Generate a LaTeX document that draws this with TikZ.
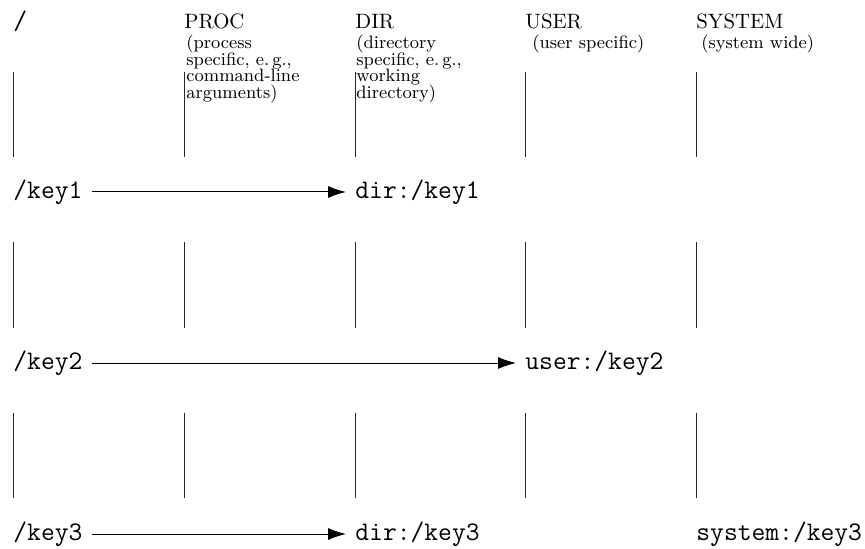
\documentclass[tikz,border=0pt]{standalone}
\usetikzlibrary{arrows.meta}
\newcommand\tightsubfont{\fontsize{9}{8.2}\selectfont\lineskiplimit -100pt\relax}
\begin{document}
\begin{tikzpicture}[x=0.5pt,y=-0.5pt,
  key/.style={font=\ttfamily\fontsize{13.4}{15}\selectfont, inner sep=0pt, anchor=west},
  head/.style={font=\fontsize{10.4}{12}\selectfont, inner sep=0pt, anchor=base west},
  sub/.style={font=\tightsubfont, inner sep=0pt, anchor=north west, align=left},
  lane/.style={line width=0.5pt, black!85},
  map/.style={line width=0.5pt, -{Latex[length=9pt,width=6pt]}, shorten <=4.5pt, shorten >=4.5pt}]
\useasboundingbox (0,0) rectangle (865,549);
% headers
\node[key, anchor=base west] (root) at (13,30) {/};
\node[head] (proc) at (184,29) {PROC};
\node[head] (dir) at (355,29) {DIR};
\node[head] (user) at (525,29) {USER};
\node[head] (system) at (696,29) {SYSTEM};
\node[sub] (procsub) at (186,35) {(process\\specific, e.\,g.,\\command-line\\arguments)};
\node[sub] (dirsub) at (356,35) {(directory\\specific, e.\,g.,\\working\\directory)};
\node[sub] (usersub) at (532,35) {(user specific)};
\node[sub] (syssub) at (701,35) {(system wide)};
% lanes
\foreach \x in {13,184,355,525,696}{
  \foreach \a/\b in {72/157,242/328,413/498}{
    \draw[lane] (\x,\a) -- (\x,\b);
  }
}
% keys
\node[key] (k1) at (13,192) {/key1};
\node[key] (d1) at (355,192) {dir:/key1};
\node[key] (k2) at (13,363) {/key2};
\node[key] (u2) at (525,363) {user:/key2};
\node[key] (k3) at (13,534) {/key3};
\node[key] (d3) at (355,534) {dir:/key3};
\node[key] (s3) at (696,534) {system:/key3};
\draw[map] (k1.east) -- (d1.west);
\draw[map] (k2.east) -- (u2.west);
\draw[map] (k3.east) -- (d3.west);
\end{tikzpicture}
\end{document}
